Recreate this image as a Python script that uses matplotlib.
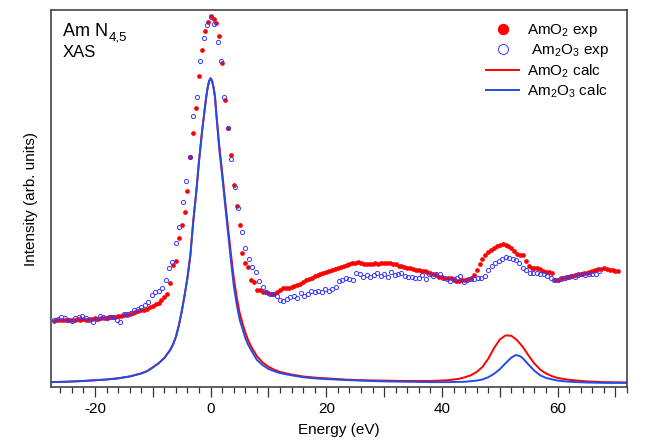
import numpy as np
import matplotlib
matplotlib.use("Agg")
import matplotlib.pyplot as plt
from matplotlib.ticker import MultipleLocator, FuncFormatter

plt.rcParams['font.family'] = ['Liberation Sans', 'DejaVu Sans']
plt.rcParams['mathtext.fontset'] = 'custom'
plt.rcParams['mathtext.rm'] = 'Liberation Sans'

# AmO2 experiment, energies start at -27 eV, step 0.5 eV
amo2_exp = [
    0.176, 0.178, 0.177, 0.179, 0.178, 0.177, 0.179, 0.178, 0.180, 0.179,
    0.180, 0.179, 0.181, 0.180, 0.182, 0.181, 0.183, 0.182, 0.184, 0.185,
    0.185, 0.186, 0.188, 0.189, 0.191, 0.192, 0.194, 0.196, 0.198, 0.201,
    0.203, 0.205, 0.208, 0.211, 0.215, 0.219, 0.224, 0.231, 0.238, 0.246,
    0.277, 0.324, 0.334, 0.395, 0.430, 0.465, 0.520, 0.610, 0.675, 0.740,
    0.825, 0.895, 0.945, 0.968, 0.984, 0.977, 0.965, 0.930, 0.860, 0.760,
    0.686, 0.615, 0.535, 0.480, 0.430, 0.356, 0.330, 0.319, 0.285, 0.279,
    0.257, 0.257, 0.253, 0.251, 0.249, 0.247, 0.247, 0.252, 0.258, 0.262,
    0.262, 0.262, 0.265, 0.268, 0.270, 0.274, 0.278, 0.283, 0.286, 0.290,
    0.294, 0.297, 0.300, 0.303, 0.305, 0.307, 0.310, 0.313, 0.316, 0.318,
    0.321, 0.324, 0.326, 0.328, 0.330, 0.332, 0.328, 0.326, 0.327, 0.325,
    0.326, 0.328, 0.327, 0.329, 0.330, 0.328, 0.329, 0.326, 0.325, 0.322,
    0.320, 0.318, 0.317, 0.315, 0.313, 0.311, 0.310, 0.309, 0.307, 0.305,
    0.302, 0.300, 0.297, 0.293, 0.292, 0.290, 0.289, 0.288, 0.285, 0.282,
    0.281, 0.284, 0.285, 0.287, 0.290, 0.298, 0.310, 0.326, 0.340, 0.350,
    0.358, 0.364, 0.368, 0.373, 0.378, 0.379, 0.377, 0.375, 0.370, 0.360,
    0.352, 0.350, 0.349, 0.335, 0.322, 0.316, 0.315, 0.315, 0.314, 0.308,
    0.305, 0.304, 0.303, 0.285, 0.285, 0.288, 0.290, 0.291, 0.293, 0.295,
    0.297, 0.299, 0.300, 0.302, 0.303, 0.305, 0.307, 0.310, 0.312, 0.314,
    0.315, 0.312, 0.310, 0.311, 0.309, 0.308,
]
amo2_exp_e = np.round(-27.0 + 0.5 * np.arange(len(amo2_exp)), 2)

# Am2O3 experiment, energies start at -27 eV, step 0.6 eV
am2o3_exp = [
    0.178, 0.181, 0.185, 0.182, 0.179, 0.176, 0.182, 0.186, 0.189, 0.184,
    0.179, 0.173, 0.180, 0.188, 0.185, 0.182, 0.185, 0.186, 0.178, 0.173,
    0.193, 0.195, 0.197, 0.203, 0.208, 0.212, 0.217, 0.226, 0.244, 0.251,
    0.255, 0.262, 0.285, 0.315, 0.332, 0.383, 0.425, 0.490, 0.547, 0.611,
    0.720, 0.770, 0.865, 0.925, 0.960, 0.982, 0.962, 0.915, 0.865, 0.770,
    0.688, 0.605, 0.530, 0.475, 0.410, 0.370, 0.339, 0.318, 0.305, 0.280,
    0.264, 0.253, 0.247, 0.246, 0.241, 0.232, 0.227, 0.234, 0.238, 0.241,
    0.237, 0.250, 0.242, 0.246, 0.254, 0.253, 0.256, 0.253, 0.259, 0.255,
    0.259, 0.264, 0.281, 0.284, 0.290, 0.286, 0.284, 0.302, 0.300, 0.293,
    0.297, 0.293, 0.297, 0.302, 0.295, 0.300, 0.291, 0.304, 0.297, 0.300,
    0.303, 0.294, 0.293, 0.293, 0.288, 0.290, 0.297, 0.286, 0.300, 0.294,
    0.300, 0.299, 0.288, 0.286, 0.282, 0.286, 0.288, 0.294, 0.279, 0.284,
    0.286, 0.287, 0.288, 0.288, 0.294, 0.310, 0.322, 0.329, 0.334, 0.340,
    0.344, 0.341, 0.339, 0.337, 0.330, 0.316, 0.310, 0.303, 0.302, 0.302,
    0.301, 0.300, 0.294, 0.288, 0.284, 0.284, 0.286, 0.288, 0.293, 0.294,
    0.293, 0.297, 0.300, 0.297, 0.300, 0.300, 0.300, 0.308,
]
am2o3_exp_e = np.round(-27.0 + 0.6 * np.arange(len(am2o3_exp)), 2)

# calculated spectra
am2o3_calc_e = [-27.6, -25, -22, -20, -18, -16, -14, -12, -11, -10, -9, -8, -7, -6.5, -6,
                -5.5, -5, -4.5, -4, -3.5, -3, -2.5, -2, -1.5, -1, -0.75, -0.5, -0.25, 0,
                0.25, 0.5, 0.75, 1, 1.5, 2, 2.5, 3, 3.5, 4, 4.5, 5, 5.5, 6, 6.5, 7, 8, 9,
                10, 11, 12, 14, 16, 18, 20, 23, 26, 30, 34, 38, 41, 44, 46, 47, 48, 49,
                50, 51, 52, 52.8, 53.5, 54, 55, 56, 57, 58, 60, 62, 65, 68, 71.8]
am2o3_calc = [0.013, 0.014, 0.016, 0.018, 0.020, 0.023, 0.028, 0.036, 0.042, 0.052, 0.063,
              0.077, 0.098, 0.113, 0.133, 0.163, 0.200, 0.243, 0.290, 0.350, 0.440, 0.514,
              0.600, 0.675, 0.740, 0.770, 0.795, 0.812, 0.819, 0.812, 0.795, 0.770, 0.720,
              0.630, 0.560, 0.485, 0.410, 0.337, 0.270, 0.220, 0.180, 0.155, 0.130, 0.112,
              0.098, 0.072, 0.058, 0.048, 0.042, 0.037, 0.031, 0.026, 0.023, 0.021, 0.019,
              0.017, 0.015, 0.014, 0.013, 0.013, 0.014, 0.017, 0.020, 0.026, 0.035, 0.047,
              0.063, 0.078, 0.085, 0.082, 0.076, 0.059, 0.043, 0.031, 0.024, 0.017, 0.014,
              0.012, 0.011, 0.011]

amo2_calc_e = [-27.6, -25, -22, -20, -18, -16, -14, -12, -11, -10, -9, -8, -7, -6.5, -6,
               -5.5, -5, -4.5, -4, -3.5, -3, -2.5, -2, -1.5, -1, -0.75, -0.5, -0.25, 0,
               0.25, 0.5, 0.75, 1, 1.5, 2, 2.5, 3, 3.5, 4, 4.5, 5, 5.5, 6, 6.5, 7, 8, 9,
               10, 11, 12, 14, 16, 18, 20, 23, 26, 30, 34, 38, 41, 43, 44, 45, 46, 47, 48,
               49, 50, 51, 52, 53, 54, 55, 56, 57, 58, 59, 60, 62, 65, 68, 71.8]
amo2_calc = [0.013, 0.014, 0.016, 0.018, 0.020, 0.023, 0.028, 0.036, 0.042, 0.052, 0.063,
             0.077, 0.098, 0.113, 0.133, 0.163, 0.200, 0.243, 0.290, 0.350, 0.440, 0.514,
             0.600, 0.675, 0.740, 0.770, 0.795, 0.812, 0.819, 0.812, 0.795, 0.772, 0.725,
             0.640, 0.570, 0.495, 0.425, 0.355, 0.290, 0.240, 0.198, 0.170, 0.145, 0.124,
             0.108, 0.082, 0.065, 0.054, 0.046, 0.040, 0.033, 0.028, 0.025, 0.023, 0.020,
             0.018, 0.017, 0.016, 0.016, 0.018, 0.022, 0.026, 0.031, 0.040, 0.053, 0.075,
             0.103, 0.126, 0.137, 0.136, 0.124, 0.106, 0.083, 0.062, 0.046, 0.036, 0.029,
             0.024, 0.019, 0.015, 0.013, 0.012]

red = '#ff0000'
blue_pts = '#3a3aff'
blue_line = '#1f4fe6'

fig = plt.figure(figsize=(6.64, 4.41), dpi=100)
ax = fig.add_axes([0.0768, 0.1224, 0.8675, 0.8549])

ax.plot(amo2_exp_e, amo2_exp, 'o', color=red, markersize=3.4, markeredgewidth=0,
        label='AmO$\\mathregular{_2}$ exp')
ax.plot(am2o3_exp_e, am2o3_exp, 'o', markerfacecolor='none', markeredgecolor=blue_pts,
        markersize=3.0, markeredgewidth=0.7, label=' Am$\\mathregular{_2}$O$\\mathregular{_3}$ exp')
ax.plot(amo2_calc_e, amo2_calc, '-', color=red, lw=1.4, label='AmO$\\mathregular{_2}$ calc')
ax.plot(am2o3_calc_e, am2o3_calc, '-', color=blue_line, lw=1.4,
        label='Am$\\mathregular{_2}$O$\\mathregular{_3}$ calc')

ax.set_xlim(-27.6, 72.0)
ax.set_ylim(0, 1)
ax.set_yticks([])
ax.xaxis.set_major_locator(MultipleLocator(10))
ax.xaxis.set_minor_locator(MultipleLocator(2))
ax.xaxis.set_major_formatter(FuncFormatter(lambda v, p: '%d' % v if round(v) % 20 == 0 else ''))
ax.tick_params(axis='x', which='major', direction='out', length=7, width=0.9, labelsize=11,
               colors='#333333', labelcolor='black', pad=4)
ax.tick_params(axis='x', which='minor', direction='out', length=4, width=0.9, colors='#333333')
for s in ax.spines.values():
    s.set_color('#444444')
    s.set_linewidth(1.2)

ax.set_xlabel('Energy (eV)', fontsize=11, labelpad=5)
ax.set_ylabel('Intensity (arb. units)', fontsize=11, labelpad=9)

# "Am N" with a 4,5 subscript placed just after it
t = ax.text(0.0203, 0.931, 'Am N', transform=ax.transAxes, fontsize=13, va='baseline', ha='left')
fig.canvas.draw()
bb = t.get_window_extent()
x_end = ax.transAxes.inverted().transform((bb.x1, bb.y0))[0]
ax.text(x_end + 0.001, 0.919, '4,5', transform=ax.transAxes, fontsize=9.5,
        va='baseline', ha='left')
ax.text(0.0203, 0.876, 'XAS', transform=ax.transAxes, fontsize=12, va='baseline', ha='left')

leg = ax.legend(loc='upper right', bbox_to_anchor=(0.99, 1.0), frameon=False, fontsize=11,
                markerscale=2.4, handlelength=2.2, handletextpad=0.5, labelspacing=0.2,
                borderaxespad=0.4)

fig.savefig('out.png', dpi=100)
